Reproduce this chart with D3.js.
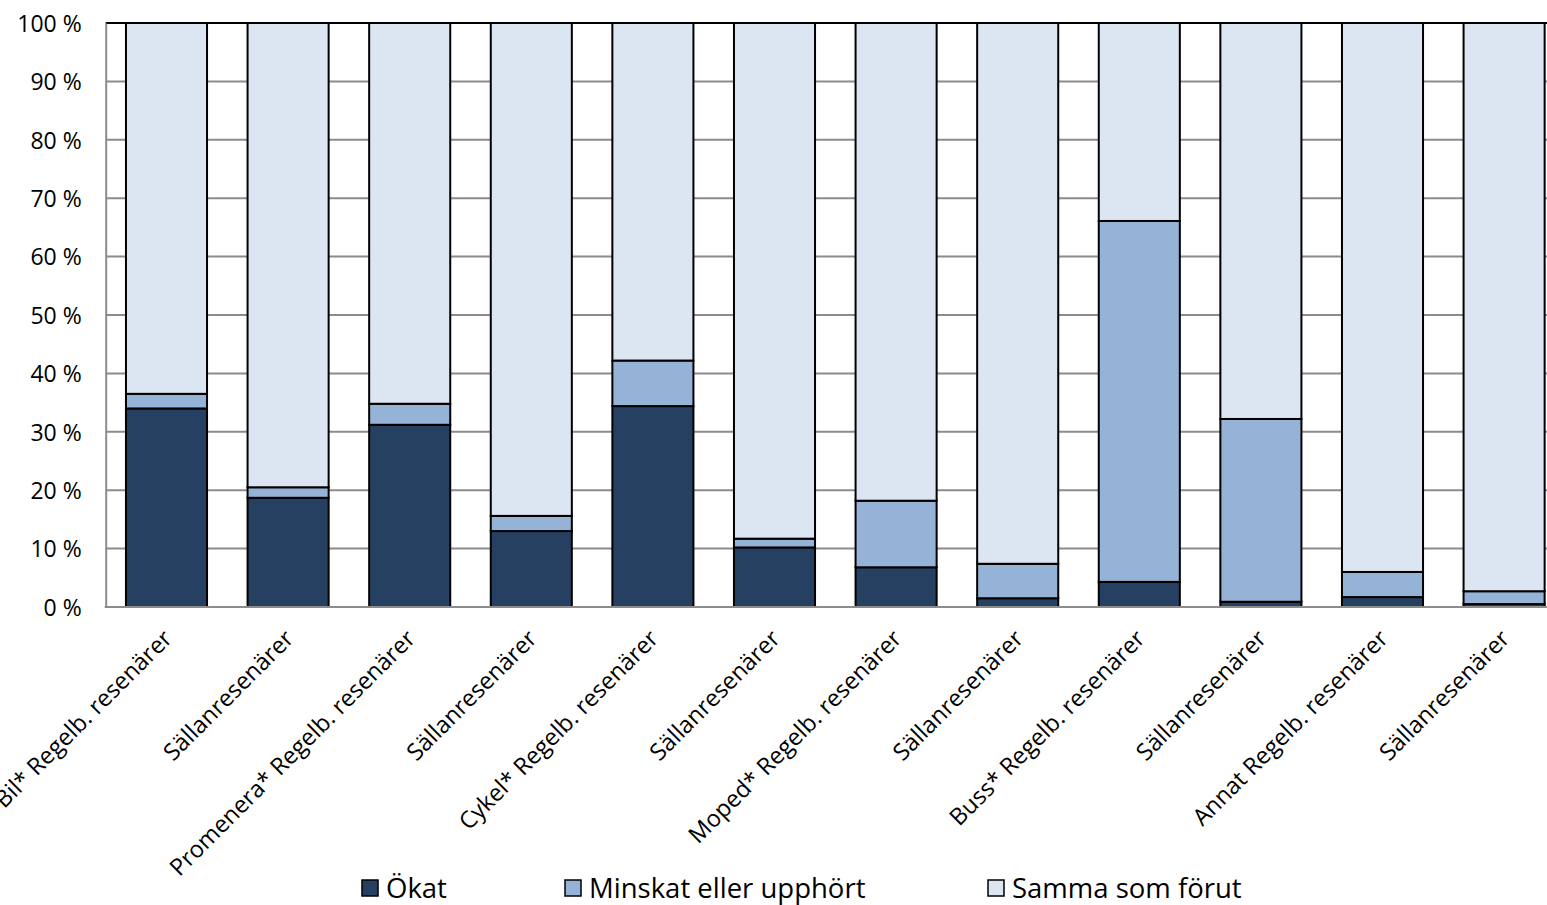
<!DOCTYPE html>
<html>
<head>
<meta charset="utf-8">
<script src="https://cdn.jsdelivr.net/npm/d3@7"></script>
<style>
  body { margin: 0; background: #fff; }
  svg text { font-family: "Open Sans", sans-serif; fill: #000; }
</style>
</head>
<body>
<div id="chart"></div>
<script>
var categories = ["Bil* Regelb. resenärer", "Sällanresenärer", "Promenera* Regelb. resenärer", "Sällanresenärer",
    "Cykel* Regelb. resenärer", "Sällanresenärer", "Moped* Regelb. resenärer", "Sällanresenärer",
    "Buss* Regelb. resenärer", "Sällanresenärer", "Annat Regelb. resenärer", "Sällanresenärer"];
var okat    = [34.0, 18.7, 31.2, 13.0, 34.4, 10.2, 6.8, 1.5, 4.3, 0.9, 1.7, 0.5];
var minskat = [2.5, 1.8, 3.6, 2.6, 7.8, 1.5, 11.4, 5.9, 61.8, 31.3, 4.3, 2.2];
var samma   = okat.map(function(d, i) { return 100 - d - minskat[i]; }); // rest up to 100 %
var seriesNames = ["Ökat", "Minskat eller upphört", "Samma som förut"];
var seriesColors = ["#264061", "#95b3d7", "#dce6f2"];
var yTicks = [0, 10, 20, 30, 40, 50, 60, 70, 80, 90, 100];

var width = 1547, height = 905;
var margin = {top: 23, left: 105.7, bottom: 298};
var plotRight = 1564.9;

var svg = d3.select("#chart").append("svg")
    .attr("width", width)
    .attr("height", height);

var x = d3.scaleBand()
    .domain(d3.range(categories.length))
    .range([margin.left, plotRight])
    .paddingInner(1/3)
    .paddingOuter(1/6);

var y = d3.scaleLinear()
    .domain([0, 100])
    .range([height - margin.bottom, margin.top]);

// gridlines
svg.append("g")
    .selectAll("line")
    .data(yTicks.slice(1))
    .enter().append("line")
    .attr("x1", margin.left)
    .attr("x2", plotRight)
    .attr("y1", function(d) { return y(d); })
    .attr("y2", function(d) { return y(d); })
    .style("stroke", d => d == 100 ? "#000" : "#8c8c8c")
    .style("stroke-width", 2);

var data = categories.map(function(c, i) {
    return {i: i, "Ökat": okat[i], "Minskat eller upphört": minskat[i], "Samma som förut": samma[i]};
});
var stack = d3.stack().keys(seriesNames)(data);

svg.append("g")
    .selectAll("g")
    .data(stack)
    .enter().append("g")
    .style("fill", function(d, i) { return seriesColors[i]; })
    .selectAll("rect")
    .data(function(d) { return d; })
    .enter().append("rect")
    .attr("x", function(d) { return x(d.data.i); })
    .attr("width", x.bandwidth())
    .attr("y", function(d) { return y(d[1]); })
    .attr("height", function(d) { return y(d[0]) - y(d[1]); })
    .style("stroke", "#000")
    .style("stroke-width", 2);

// y axis
var yAxis = d3.axisLeft(y)
    .tickValues(yTicks)
    .tickSize(0)
    .tickPadding(24)
    .tickFormat(function(d) { return d + " %"; });

var ya = svg.append("g")
    .attr("transform", "translate(" + margin.left + ",0)")
    .call(yAxis);
ya.select(".domain").style("stroke", "#8c8c8c").style("stroke-width", 2);
ya.selectAll("text").style("font-size", "23px").attr("dy", "0.36em");

// x baseline
svg.append("line")
    .attr("x1", margin.left - 1)
    .attr("x2", plotRight)
    .attr("y1", y(0))
    .attr("y2", y(0))
    .style("stroke", "#8c8c8c")
    .style("stroke-width", 2);

// category labels
svg.append("g")
    .selectAll("text")
    .data(categories)
    .enter().append("text")
    .attr("transform", function(d, i) {
        return "translate(" + (x(i) + x.bandwidth() / 2 + 7) + "," + (y(0) + 33) + ") rotate(-45)";
    })
    .style("text-anchor", "end")
    .style("font-size", "23.5px")
    .text(function(d) { return d; });

// legend
var legendX = [362, 565, 988];
var legend = svg.append("g")
    .selectAll("g")
    .data(seriesNames)
    .enter().append("g")
    .attr("transform", function(d, i) { return "translate(" + legendX[i] + ",880)"; });

legend.append("rect")
    .attr("width", 16)
    .attr("height", 16)
    .style("fill", function(d, i) { return seriesColors[i]; })
    .style("stroke", "#000")
    .style("stroke-width", 1.5);

legend.append("text")
    .attr("x", 24)
    .attr("y", 18)
    .style("font-size", "27.5px")
    .text(function(d) { return d; });
</script>
</body>
</html>
